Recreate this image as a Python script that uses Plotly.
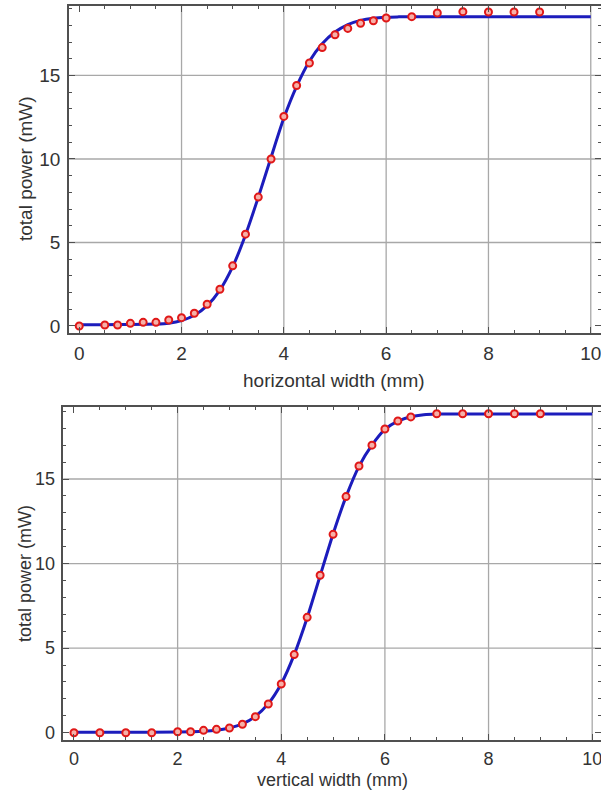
import plotly.graph_objects as go

# Measured points: horizontal scan
h_width = [0, 0.5, 0.75, 1.0, 1.25, 1.5, 1.75, 2.0, 2.25, 2.5, 2.75, 3.0, 3.25, 3.5,
           3.75, 4.0, 4.25, 4.5, 4.75, 5.0, 5.25, 5.5, 5.75, 6.0, 6.5, 7.0, 7.5, 8.0, 8.5, 9.0]
h_power = [0.0, 0.06, 0.06, 0.16, 0.22, 0.22, 0.36, 0.5, 0.76, 1.3, 2.2, 3.6, 5.5, 7.72,
           10.0, 12.55, 14.4, 15.75, 16.67, 17.44, 17.82, 18.12, 18.28, 18.44, 18.52, 18.74, 18.82, 18.8, 18.8, 18.8]

# Fitted curve: horizontal scan
h_fit_x = [0, 0.5, 1.0, 1.5, 1.75, 2.0, 2.25, 2.5, 2.75, 3.0, 3.25, 3.5, 3.75, 4.0, 4.25,
           4.5, 4.75, 5.0, 5.25, 5.5, 5.75, 6.0, 6.25, 6.5, 7.0, 8.0, 9.0, 10.0]
h_fit_y = [0.08, 0.08, 0.09, 0.12, 0.17, 0.32, 0.64, 1.22, 2.15, 3.55, 5.45, 7.7, 10.1, 12.45, 14.35,
           15.85, 16.9, 17.6, 18.05, 18.3, 18.43, 18.49, 18.51, 18.52, 18.52, 18.52, 18.52, 18.52]

# Measured points: vertical scan
v_width = [0, 0.5, 1.0, 1.5, 2.0, 2.25, 2.5, 2.75, 3.0, 3.25, 3.5, 3.75, 4.0, 4.25,
           4.5, 4.75, 5.0, 5.25, 5.5, 5.75, 6.0, 6.25, 6.5, 7.0, 7.5, 8.0, 8.5, 9.0]
v_power = [0.0, 0.0, 0.0, 0.0, 0.06, 0.06, 0.14, 0.2, 0.28, 0.5, 0.95, 1.7, 2.88, 4.62,
           6.82, 9.31, 11.73, 13.96, 15.77, 17.0, 17.96, 18.43, 18.67, 18.86, 18.86, 18.86, 18.86, 18.86]

# Fitted curve: vertical scan
v_fit_x = [0, 1.0, 2.0, 2.5, 2.75, 3.0, 3.25, 3.5, 3.75, 4.0, 4.25, 4.5, 4.75, 5.0,
           5.25, 5.5, 5.75, 6.0, 6.25, 6.5, 6.75, 7.0, 8.0, 10.0]
v_fit_y = [0.03, 0.03, 0.04, 0.08, 0.14, 0.28, 0.52, 0.97, 1.72, 2.9, 4.62, 6.8, 9.28, 11.75,
           13.96, 15.75, 17.0, 17.93, 18.42, 18.68, 18.8, 18.84, 18.85, 18.85]

x_ticks = [0, 2, 4, 6, 8, 10]
y_ticks = [0, 5, 10, 15]
grid_x = [2, 4, 6, 8, 10]
grid_y = [5, 10, 15]

FONT = "Liberation Sans, Arial, sans-serif"
TEXT = "#333333"
FRAME = "#505050"
GRID = "#a8a8a8"
LINE_BLUE = "#1c1cbc"
RED = "#e01818"

fig = go.Figure()

for xa, ya, fx, fy, mx, my in [("x", "y", h_fit_x, h_fit_y, h_width, h_power),
                               ("x2", "y2", v_fit_x, v_fit_y, v_width, v_power)]:
    fig.add_trace(go.Scatter(x=fx, y=fy, mode="lines", xaxis=xa, yaxis=ya,
                             line=dict(color=LINE_BLUE, width=3, shape="spline", smoothing=0.7),
                             showlegend=False, hoverinfo="skip"))
    fig.add_trace(go.Scatter(x=mx, y=my, mode="markers", xaxis=xa, yaxis=ya,
                             marker=dict(symbol="circle", size=7, color="#f6b0a8",
                                         line=dict(color=RED, width=2)),
                             showlegend=False))

# grid lines at selected major ticks
shapes = []
for xref, yref in [("x", "y"), ("x2", "y2")]:
    for gx in grid_x:
        shapes.append(dict(type="line", xref=xref, yref=yref + " domain", x0=gx, x1=gx, y0=0, y1=1,
                           line=dict(color=GRID, width=1.3), layer="below"))
    for gy in grid_y:
        shapes.append(dict(type="line", xref=xref + " domain", yref=yref, x0=0, x1=1, y0=gy, y1=gy,
                           line=dict(color=GRID, width=1.3), layer="below"))


def xaxis_style(domain, rng, anchor, fsize):
    return dict(domain=domain, range=rng, anchor=anchor, tickvals=x_ticks,
                ticks="inside", ticklen=6, tickwidth=1, tickcolor=FRAME,
                minor=dict(dtick=0.5, tick0=0, ticks="inside", ticklen=3, tickcolor=FRAME, showgrid=False),
                showline=True, linecolor=FRAME, linewidth=1.5, mirror="allticks",
                showgrid=False, zeroline=False, ticklabeloverflow="allow",
                tickfont=dict(family=FONT, size=fsize, color=TEXT), ticklabelstandoff=2)


def yaxis_style(domain, rng, anchor, fsize):
    return dict(domain=domain, range=rng, anchor=anchor, tickvals=y_ticks,
                ticks="inside", ticklen=6, tickwidth=1, tickcolor=FRAME,
                minor=dict(dtick=1, tick0=0, ticks="inside", ticklen=3, tickcolor=FRAME, showgrid=False),
                showline=True, linecolor=FRAME, linewidth=1.5, mirror="allticks",
                showgrid=False, zeroline=False, ticklabeloverflow="allow",
                tickfont=dict(family=FONT, size=fsize, color=TEXT), ticklabelstandoff=3)


def title(text, x, y, size, angle=0):
    return dict(text=text, x=x / W, y=1 - y / H, xref="paper", yref="paper",
                xanchor="center", yanchor="middle", showarrow=False, textangle=angle,
                font=dict(family=FONT, size=size, color=TEXT))


W, H = 601, 794
fig.update_layout(
    width=W, height=H,
    margin=dict(l=0, r=0, t=0, b=0, autoexpand=False),
    paper_bgcolor="white", plot_bgcolor="white",
    xaxis=xaxis_style([69 / W, 1.0], [-0.2, 10.2], "y", 19),
    yaxis=yaxis_style([1 - 333 / H, 1 - 6 / H], [-0.42, 19.16], "x", 19),
    xaxis2=xaxis_style([63.3 / W, 1.0], [-0.206, 10.17], "y2", 18),
    yaxis2=yaxis_style([1 - 740 / H, 1 - 407.3 / H], [-0.43, 19.24], "x2", 18),
    shapes=shapes,
    annotations=[
        title("horizontal width (mm)", 334, 380, 19),
        title("total power (mW)", 25, 169, 19, -90),
        title("vertical width (mm)", 333, 780, 18),
        title("total power (mW)", 25, 574, 18, -90),
    ],
)

fig.write_html("out.html")
